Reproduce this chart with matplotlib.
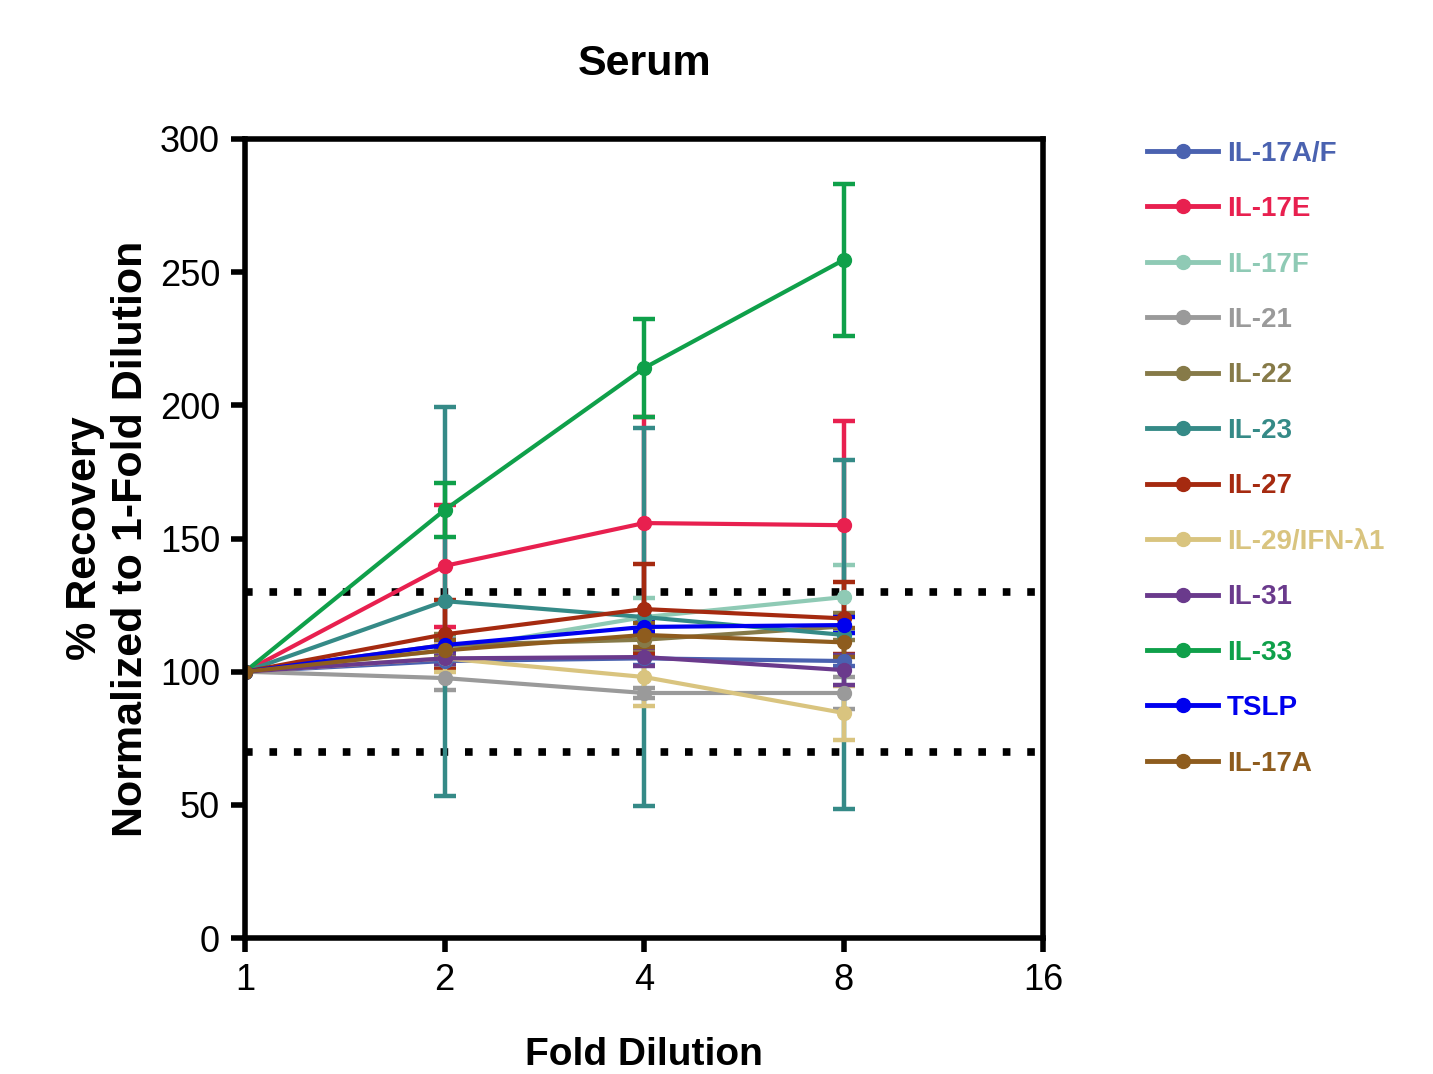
import numpy as np
import matplotlib
matplotlib.use('Agg')
import matplotlib.pyplot as plt
from matplotlib.lines import Line2D

# fold dilutions
dilution = [1, 2, 4, 8]

names = ['IL-17A/F', 'IL-17E', 'IL-17F', 'IL-21', 'IL-22', 'IL-23',
         'IL-27', 'IL-29/IFN-λ1', 'IL-31', 'IL-33', 'TSLP', 'IL-17A']
colors = ['#4a62b0', '#e8204f', '#8fcab5', '#9a9a9a', '#867a48', '#358a87',
          '#a52a10', '#d9c47f', '#6a3a8c', '#0fa04a', '#0000ee', '#8e5c1e']

# % recovery (mean) per analyte
il17af = [100, 104, 105, 104]
il17e = [100, 139.7, 155.8, 155]
il17f = [100, 108, 120.5, 128]
il21 = [100, 97.6, 92, 92]
il22 = [100, 110, 112, 117]
il23 = [100, 126.5, 120.5, 113.8]
il27 = [100, 114, 123.5, 120]
il29 = [100, 105, 98, 84.5]
il31 = [100, 105, 105.5, 100.6]
il33 = [100, 160.7, 214, 254.6]
tslp = [100, 110, 116.8, 117.5]
il17a = [100, 108, 113.8, 111]

# error (+/-)
il17af_err = [0, 2, 2.5, 2]
il17e_err = [0, 23, 40, 39]
il17f_err = [0, 5, 7, 12]
il21_err = [0, 4.5, 2, 6]
il22_err = [0, 4, 4, 5]
il23_err = [0, 73, 71, 65.5]
il27_err = [0, 13, 17, 13.5]
il29_err = [0, 5, 11, 10]
il31_err = [0, 2, 3.5, 5.5]
il33_err = [0, 10, 18.5, 28.5]
tslp_err = [0, 2, 2, 3]
il17a_err = [0, 4, 4.5, 5.5]

means = [il17af, il17e, il17f, il21, il22, il23, il27, il29, il31, il33, tslp, il17a]
errs = [il17af_err, il17e_err, il17f_err, il21_err, il22_err, il23_err,
        il27_err, il29_err, il31_err, il33_err, tslp_err, il17a_err]

plt.rcParams['font.family'] = ['Liberation Sans', 'DejaVu Sans']

fig = plt.figure(figsize=(14.33, 10.74), dpi=100)
ax = fig.add_axes([0.171, 0.1266, 0.557, 0.744])

handles = []
for name, c, m, e in zip(names, colors, means, errs):
    ax.errorbar(dilution, m, yerr=e, errorevery=(1, 1), color=c, lw=3,
                marker='o', markersize=10, capsize=8, capthick=3.2, elinewidth=3.2)
    handles.append(Line2D([], [], color=c, lw=3.5, marker='o', markersize=10, label=name))

for lvl in [130, 70]:
    ax.axhline(lvl, color='black', lw=5.5, linestyle=(0, (1, 2.2)), zorder=0)

ax.set_xscale('log', base=2)
ax.set_xlim(1, 16)
ax.set_ylim(0, 300)
ax.set_xticks([1, 2, 4, 8, 16])
ax.set_xticklabels(['1', '2', '4', '8', '16'])
ax.set_yticks([0, 50, 100, 150, 200, 250, 300])
ax.minorticks_off()
for sp in ax.spines.values():
    sp.set_linewidth(4)
ax.tick_params(direction='out', length=10, width=4, labelsize=26, pad=8)

ax.set_title('Serum', fontsize=31, fontweight='bold', pad=46)
ax.set_xlabel('Fold Dilution', fontsize=28, fontweight='bold', labelpad=28)
ax.set_ylabel('% Recovery\nNormalized to 1-Fold Dilution', fontsize=31,
              fontweight='bold', labelpad=6)

fig.legend(handles=handles, loc='upper left', bbox_to_anchor=(0.8005, 0.869),
           frameon=False, labelcolor='linecolor', handlelength=2.55,
           handletextpad=0.32, labelspacing=1.06, borderpad=0, borderaxespad=0,
           prop={'weight': 'bold', 'size': 20})

fig.savefig('out.png', dpi=100)
